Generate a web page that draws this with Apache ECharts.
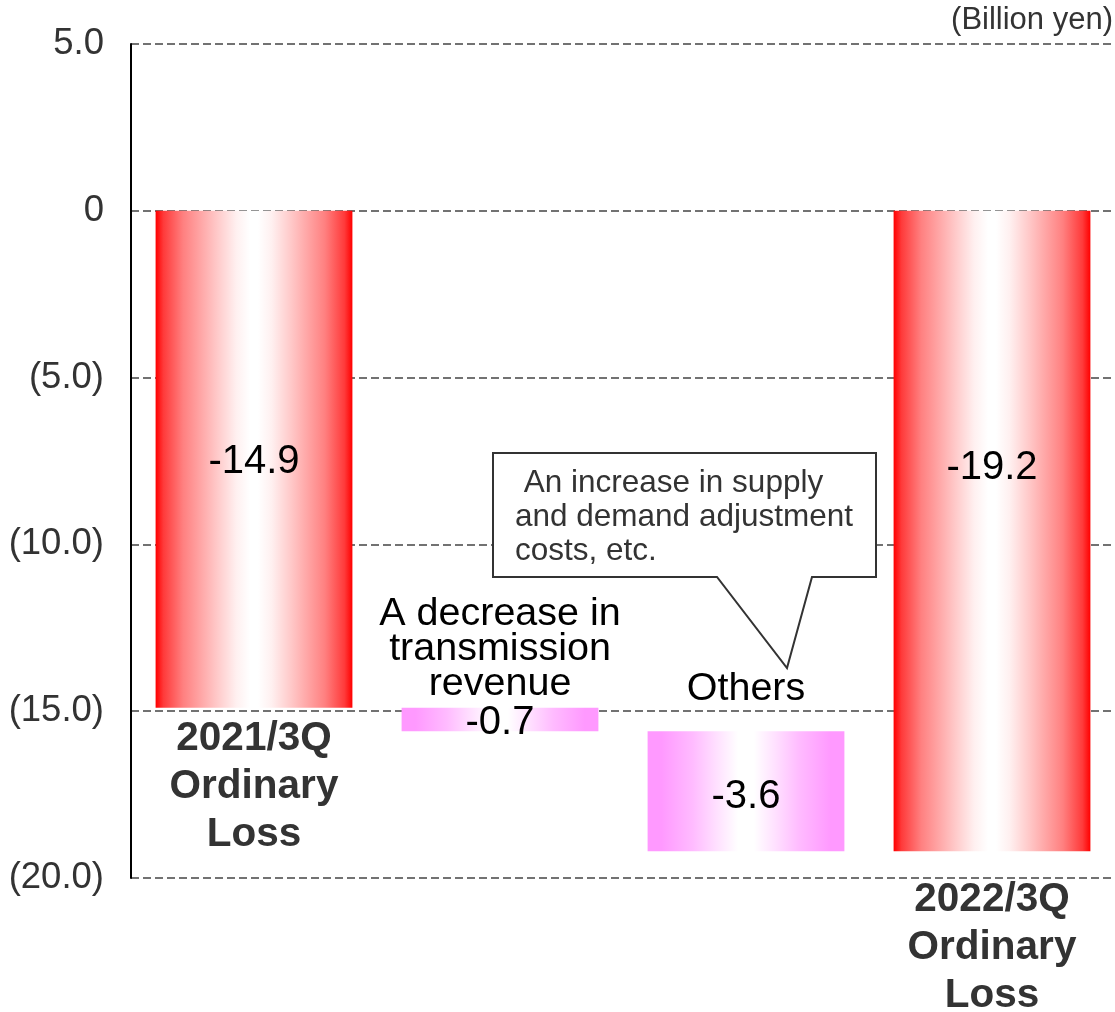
<!DOCTYPE html>
<html>
<head>
<meta charset="utf-8">
<title>Ordinary Loss Bridge</title>
<script src="https://cdn.jsdelivr.net/npm/echarts@6/dist/echarts.min.js"></script>
<style>
  html, body { margin: 0; padding: 0; background: #fff; }
  #chart { width: 1115px; height: 1012px; }
</style>
</head>
<body>
<div id="chart"></div>
<script>
// Bridge from 2021/3Q to 2022/3Q ordinary loss (billion yen)
const categories = ['2021/3Q Ordinary Loss', 'A decrease in transmission revenue', 'Others', '2022/3Q Ordinary Loss'];
const captionLines = ['2021/3Q\nOrdinary\nLoss', 'A decrease in\ntransmission\nrevenue', 'Others', '2022/3Q\nOrdinary\nLoss'];
const changes = [-14.9, -0.7, -3.6, -19.2];
const isTotal = [true, false, false, true];
const yMin = -20, yMax = 5, yStep = 5;
const unitText = '(Billion yen)';
const calloutText = ' An increase in supply\nand demand adjustment\ncosts, etc.';

const FONT = '"Liberation Sans", Arial, sans-serif';

// running totals give the floating base of each step bar
const bases = [];
let running = 0;
changes.forEach((v, i) => {
  if (isTotal[i]) { bases.push(0); running = v; }
  else { bases.push(running); running += v; }
});

// horizontal edge-to-centre shading, mirrored about the middle
function mirroredGradient(half) {
  const stops = half.map(s => ({ offset: s[0], color: s[1] }));
  half.slice().reverse().forEach(s => {
    if (s[0] < 0.5) stops.push({ offset: 1 - s[0], color: s[1] });
  });
  return new echarts.graphic.LinearGradient(0, 0, 1, 0, stops);
}
const redFill = () => mirroredGradient([
  [0, '#ff0000'], [0.04, '#ff3a3a'], [0.14, '#ff8080'], [0.31, '#ffc8c8'], [0.41, '#fff0f0'], [0.48, '#ffffff'], [0.5, '#ffffff']
]);
const pinkFill = () => mirroredGradient([
  [0, '#ff99ff'], [0.07, '#ff99ff'], [0.23, '#ffbbff'], [0.35, '#ffe0ff'], [0.46, '#ffffff'], [0.5, '#ffffff']
]);

const valueOffsets = [[0, 3], [0, 3], [0, 6], [0, -63]];
const stepCaptionDistance = [0, 6, 25, 0];
const totalCaptionDistance = [7, 0, 0, 25];

const chart = echarts.init(document.getElementById('chart'), null, { renderer: 'canvas' });

chart.setOption({
  animation: false,
  textStyle: { fontFamily: FONT },
  grid: { left: 131, top: 44, width: 990, height: 834, containLabel: false },
  xAxis: {
    type: 'category',
    data: categories,
    axisLine: { show: false },
    axisTick: { show: false },
    axisLabel: { show: false },
    splitLine: { show: false }
  },
  yAxis: {
    type: 'value',
    min: yMin,
    max: yMax,
    interval: yStep,
    axisLine: { show: true, lineStyle: { color: '#000', width: 2 } },
    axisTick: { show: false },
    axisLabel: {
      margin: 27,
      fontSize: 36.5,
      color: '#333',
      fontFamily: FONT,
      padding: [6, 0, 0, 0],
      formatter: v => v > 0 ? v.toFixed(1) : (v === 0 ? '0' : '(' + (-v).toFixed(1) + ')')
    },
    splitLine: { show: true, lineStyle: { color: '#444', width: 1.5, type: [8, 4] } }
  },
  series: [
    {
      name: 'base',
      type: 'bar',
      stack: 'bridge',
      barWidth: '80%',
      barGap: '-100%',
      silent: true,
      itemStyle: { color: 'rgba(0,0,0,0)' },
      data: bases.map((b, i) => ({
        value: b,
        label: isTotal[i] ? { show: false } : {
          show: true,
          position: 'insideBottom',
          distance: stepCaptionDistance[i],
          formatter: captionLines[i],
          fontSize: 39.5,
          lineHeight: 35,
          color: '#000',
          fontFamily: FONT
        }
      }))
    },
    {
      name: 'change',
      type: 'bar',
      stack: 'bridge',
      barWidth: '80%',
      barGap: '-100%',
      data: changes.map((v, i) => ({
        value: v,
        itemStyle: { color: isTotal[i] ? redFill() : pinkFill() },
        label: {
          show: true,
          position: 'inside',
          offset: valueOffsets[i],
          formatter: p => p.value.toFixed(1),
          fontSize: 40,
          color: '#000',
          fontFamily: FONT
        }
      }))
    },
    {
      name: 'caption',
      type: 'bar',
      barWidth: '80%',
      barGap: '-100%',
      silent: true,
      itemStyle: { color: 'rgba(0,0,0,0)' },
      data: changes.map((v, i) => isTotal[i] ? {
        value: v,
        label: {
          show: true,
          position: 'bottom',
          distance: totalCaptionDistance[i],
          formatter: captionLines[i],
          fontSize: 40.5,
          fontWeight: 'bold',
          lineHeight: 48,
          color: '#333',
          fontFamily: FONT
        }
      } : '-')
    }
  ],
  graphic: [
    {
      type: 'text',
      right: 2,
      top: 5,
      style: { text: unitText, font: '31px ' + FONT, fill: '#333' }
    },
    {
      type: 'polygon',
      z: 10,
      shape: { points: [[493, 453], [876, 453], [876, 577], [812, 577], [787, 668], [717, 577], [493, 577]] },
      style: { fill: '#fff', stroke: '#333', lineWidth: 2 }
    },
    {
      type: 'text',
      z: 11,
      x: 515,
      y: 466,
      style: { text: calloutText, font: '31.5px ' + FONT, fill: '#333', lineHeight: 34, verticalAlign: 'top' }
    }
  ]
});
</script>
</body>
</html>
